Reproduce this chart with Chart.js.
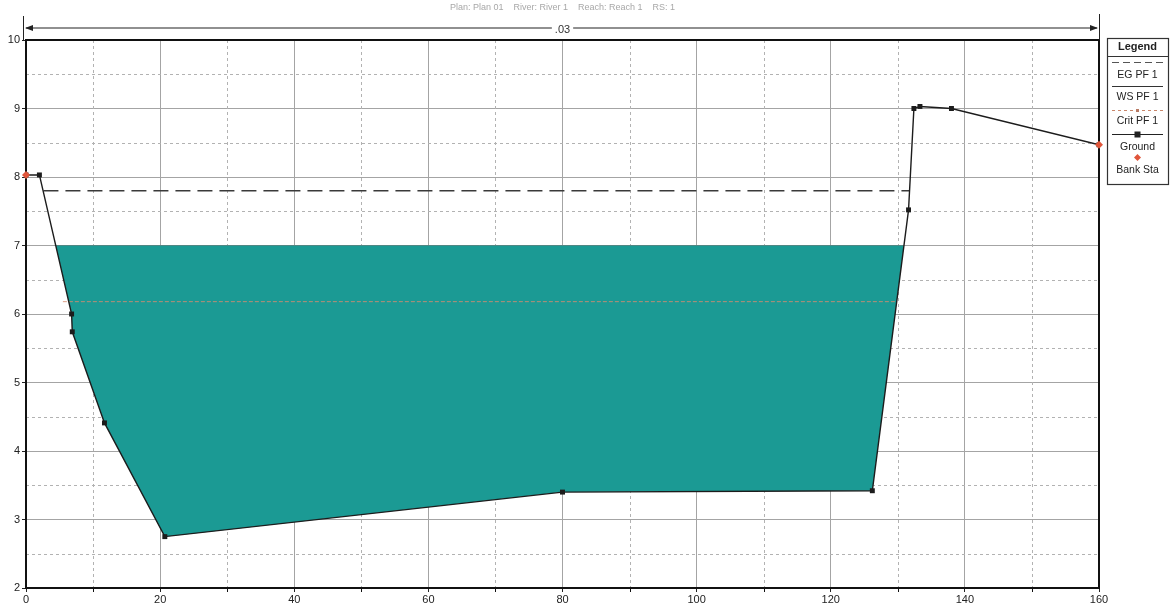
<!DOCTYPE html>
<html>
<head>
<meta charset="utf-8">
<title>Cross Section</title>
<script src="https://cdn.jsdelivr.net/npm/chart.js@4.4.1/dist/chart.umd.min.js"></script>
<style>
  html, body { margin: 0; padding: 0; background: #ffffff; }
  #wrap { position: relative; width: 1170px; height: 611px; }
</style>
</head>
<body>
<div id="wrap"><canvas id="xs" width="1170" height="611"></canvas></div>
<script>
// Ground profile (station, elevation)
const groundSta  = [0, 2.0, 6.8, 6.9, 11.7, 20.7, 80.0, 126.2, 131.6, 132.4, 133.3, 138.0, 160];
const groundElev = [8.03, 8.03, 6.0, 5.74, 4.41, 2.75, 3.40, 3.42, 7.52, 9.0, 9.03, 9.0, 8.47];

// Bank stations
const bankSta  = [0, 160];
const bankElev = [8.03, 8.47];

// Water surface, energy grade and critical depth for profile PF 1
const wsSta    = [4.3, 130.9];
const wsElev   = [7.0, 7.0];
const egSta    = [2.6, 131.7];
const egElev   = [7.8, 7.8];
const critSta  = [5.5, 129.8];
const critElev = [6.18, 6.18];

// Axes
const xTicks = [0, 20, 40, 60, 80, 100, 120, 140, 160];
const xMinor = [10, 30, 50, 70, 90, 110, 130, 150];
const yTicks = [2, 3, 4, 5, 6, 7, 8, 9, 10];
const yMinor = [2.5, 3.5, 4.5, 5.5, 6.5, 7.5, 8.5, 9.5];

// Manning's n zones across the section
const nValues = ['.03'];
const nStart  = [0];
const nEnd    = [160];

const titleText = 'Plan: Plan 01    River: River 1    Reach: Reach 1    RS: 1';

const legendNames = ['EG PF 1', 'WS PF 1', 'Crit PF 1', 'Ground', 'Bank Sta'];

const FONT = '"Liberation Sans", Arial, sans-serif';
const WATER = '#1b9a94';

function pts(xs, ys) { return xs.map((v, i) => ({ x: v, y: ys[i] })); }

const decor = {
  id: 'sectionDecor',
  beforeDraw(chart) {
    const ctx = chart.ctx;
    ctx.save();
    ctx.fillStyle = '#ffffff';
    ctx.fillRect(0, 0, chart.width, chart.height);
    ctx.restore();
  },
  beforeDatasetsDraw(chart) {
    const { ctx, chartArea: a, scales: { x, y } } = chart;
    ctx.save();
    // half-unit dashed grid
    ctx.strokeStyle = '#b2b2b2';
    ctx.lineWidth = 1;
    ctx.setLineDash([3, 3]);
    yMinor.forEach(v => {
      const py = Math.round(y.getPixelForValue(v)) + 0.5;
      ctx.beginPath(); ctx.moveTo(a.left, py); ctx.lineTo(a.right, py); ctx.stroke();
    });
    xMinor.forEach(v => {
      const px = Math.round(x.getPixelForValue(v)) + 0.5;
      ctx.beginPath(); ctx.moveTo(px, a.top); ctx.lineTo(px, a.bottom); ctx.stroke();
    });
    ctx.setLineDash([]);
    // frame
    ctx.strokeStyle = '#111';
    ctx.lineWidth = 2;
    ctx.strokeRect(a.left, a.top, a.right - a.left, a.bottom - a.top);
    // minor ticks along the station axis
    ctx.lineWidth = 1;
    xMinor.forEach(v => {
      const px = Math.round(x.getPixelForValue(v)) + 0.5;
      ctx.beginPath(); ctx.moveTo(px, a.bottom); ctx.lineTo(px, a.bottom + 4); ctx.stroke();
    });
    ctx.restore();
  },
  afterDraw(chart) {
    const { ctx, chartArea: a, scales: { x } } = chart;
    ctx.save();

    // title
    ctx.fillStyle = '#a8a8a8';
    ctx.font = '9px ' + FONT;
    ctx.textAlign = 'center';
    ctx.textBaseline = 'middle';
    ctx.fillText(titleText, (a.left + a.right) / 2, 8);

    // Manning's n zones with arrows
    const ay = 28;
    nValues.forEach((label, i) => {
      const x0 = x.getPixelForValue(nStart[i]);
      const x1 = x.getPixelForValue(nEnd[i]);
      const xm = (x0 + x1) / 2;
      ctx.strokeStyle = '#222';
      ctx.fillStyle = '#222';
      ctx.lineWidth = 1;
      ctx.beginPath();
      ctx.moveTo(x0 - 2.5, 16); ctx.lineTo(x0 - 2.5, a.top);
      ctx.moveTo(x1 + 0.5, 14); ctx.lineTo(x1 + 0.5, a.top);
      ctx.stroke();
      ctx.font = '11px ' + FONT;
      const tw = ctx.measureText(label).width;
      ctx.lineWidth = 1.2;
      ctx.beginPath();
      ctx.moveTo(x0, ay); ctx.lineTo(xm - tw / 2 - 3, ay);
      ctx.moveTo(xm + tw / 2 + 3, ay); ctx.lineTo(x1 - 2, ay);
      ctx.stroke();
      // arrowheads
      ctx.beginPath();
      ctx.moveTo(x0 - 1, ay); ctx.lineTo(x0 + 7, ay - 3); ctx.lineTo(x0 + 7, ay + 3); ctx.closePath();
      ctx.moveTo(x1 - 1, ay); ctx.lineTo(x1 - 9, ay - 3); ctx.lineTo(x1 - 9, ay + 3); ctx.closePath();
      ctx.fill();
      ctx.fillStyle = '#333';
      ctx.fillText(label, xm, ay + 2);
    });

    // legend box
    const lx = 1107, lw = 61, lt = 38, lb = 184, cx = lx + lw / 2;
    ctx.strokeStyle = '#333';
    ctx.lineWidth = 1.2;
    ctx.strokeRect(lx + 0.5, lt + 0.5, lw, lb - lt);
    ctx.fillStyle = '#222';
    ctx.font = 'bold 11px ' + FONT;
    ctx.textAlign = 'center';
    ctx.fillText('Legend', cx, 47);
    ctx.lineWidth = 1;
    ctx.beginPath(); ctx.moveTo(lx, 56.5); ctx.lineTo(lx + lw, 56.5); ctx.stroke();

    const sx0 = lx + 5, sx1 = lx + lw - 5;
    // EG sample
    ctx.strokeStyle = '#555';
    ctx.setLineDash([7, 4]);
    ctx.beginPath(); ctx.moveTo(sx0, 62.5); ctx.lineTo(sx1, 62.5); ctx.stroke();
    // WS sample
    ctx.setLineDash([]);
    ctx.strokeStyle = '#333';
    ctx.beginPath(); ctx.moveTo(sx0, 86.5); ctx.lineTo(sx1, 86.5); ctx.stroke();
    // Crit sample
    ctx.strokeStyle = '#c9866a';
    ctx.setLineDash([3, 3]);
    ctx.beginPath(); ctx.moveTo(sx0, 110.5); ctx.lineTo(sx1, 110.5); ctx.stroke();
    ctx.setLineDash([]);
    ctx.fillStyle = '#b87a64';
    ctx.fillRect(cx - 1.5, 109, 3, 3);
    // Ground sample
    ctx.strokeStyle = '#222';
    ctx.beginPath(); ctx.moveTo(sx0, 134.5); ctx.lineTo(sx1, 134.5); ctx.stroke();
    ctx.fillStyle = '#222';
    ctx.fillRect(cx - 3, 131.5, 6, 6);
    // Bank Sta sample
    ctx.fillStyle = '#e0553a';
    ctx.beginPath();
    ctx.moveTo(cx, 154); ctx.lineTo(cx + 3.5, 157.5); ctx.lineTo(cx, 161); ctx.lineTo(cx - 3.5, 157.5); ctx.closePath();
    ctx.fill();

    ctx.fillStyle = '#222';
    ctx.font = '10.5px ' + FONT;
    const ty = [75, 97, 121, 147, 170];
    legendNames.forEach((n, i) => ctx.fillText(n, cx, ty[i]));
    ctx.restore();
  }
};

const chart = new Chart(document.getElementById('xs'), {
  type: 'scatter',
  data: {
    datasets: [
      {
        label: 'Bank Sta',
        data: pts(bankSta, bankElev),
        showLine: false,
        pointStyle: 'rectRot',
        pointRadius: 4,
        backgroundColor: '#e0553a',
        borderColor: '#e0553a',
        borderWidth: 0,
        clip: false
      },
      {
        label: 'Ground',
        data: pts(groundSta, groundElev),
        showLine: true,
        borderColor: '#1c1c1c',
        borderWidth: 1.4,
        pointStyle: 'rect',
        pointRadius: 3.5,
        backgroundColor: '#1c1c1c',
        pointBorderWidth: 0,
        tension: 0
      },
      {
        label: 'Crit PF 1',
        data: pts(critSta, critElev),
        showLine: true,
        borderColor: 'rgba(214,140,110,0.85)',
        borderWidth: 1,
        borderDash: [4, 2],
        pointRadius: 0
      },
      {
        label: 'EG PF 1',
        data: pts(egSta, egElev),
        showLine: true,
        borderColor: '#3a3a3a',
        borderWidth: 1.5,
        borderDash: [15, 7],
        pointRadius: 0
      },
      {
        label: 'WS PF 1',
        data: pts(wsSta, wsElev),
        showLine: true,
        borderColor: '#4f8784',
        borderWidth: 1,
        pointRadius: 0,
        backgroundColor: WATER,
        fill: 1
      }
    ]
  },
  options: {
    responsive: false,
    animation: false,
    devicePixelRatio: 1,
    layout: { padding: { left: 0, top: 40, right: 71, bottom: 0 } },
    plugins: {
      legend: { display: false },
      tooltip: { enabled: false },
      filler: { propagate: false }
    },
    scales: {
      x: {
        type: 'linear',
        min: 0, max: 160,
        afterBuildTicks(s) { s.ticks = xTicks.map(v => ({ value: v })); },
        afterFit(s) { s.height = 23; },
        ticks: { color: '#222', font: { family: FONT, size: 11 }, padding: 1, maxRotation: 0 },
        grid: { color: '#a4a4a4', lineWidth: 1, tickLength: 4, tickColor: '#222' },
        border: { display: false }
      },
      y: {
        type: 'linear',
        min: 2, max: 10,
        afterBuildTicks(s) { s.ticks = yTicks.map(v => ({ value: v })); },
        afterFit(s) { s.width = 26; },
        ticks: { color: '#222', font: { family: FONT, size: 11 }, padding: 2 },
        grid: { color: '#a4a4a4', lineWidth: 1, tickLength: 4, tickColor: '#222' },
        border: { display: false }
      }
    }
  },
  plugins: [decor]
});
</script>
</body>
</html>
